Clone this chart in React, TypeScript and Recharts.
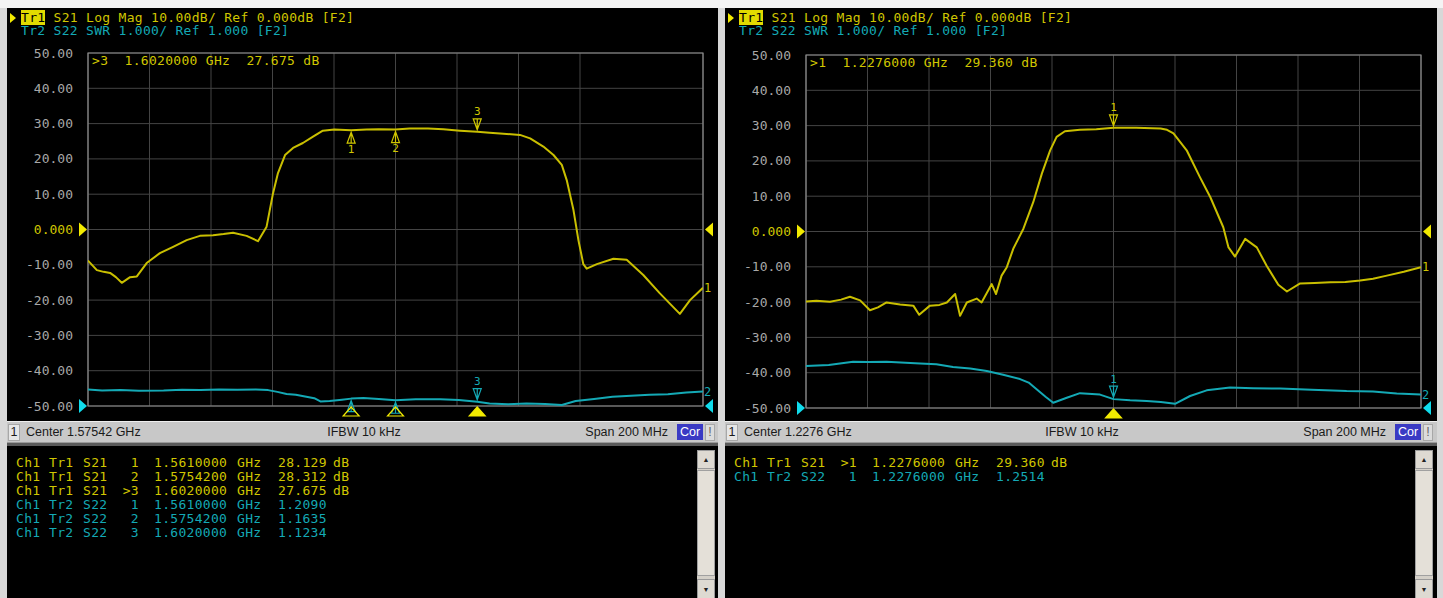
import React from "react";
import { CartesianGrid, ComposedChart, Line, ReferenceArea, ReferenceDot, XAxis, YAxis } from "recharts";

const MONO = '"DejaVu Sans Mono", "Liberation Mono", monospace';
const SANS = '"Liberation Sans", Arial, sans-serif';
const YELLOW = "#c9bf00";
const YELLOW_TXT = "#d0c600";
const YELLOW_REF = "#f2ea00";
const CYAN = "#14a9b5";
const CYAN_REF = "#10dcec";
const GRID = "#444444";

const DB_TICKS = [50, 40, 30, 20, 10, 0, -10, -20, -30, -40, -50];

// left panel: center 1.57542 GHz, span 200 MHz (frequencies in MHz)
const leftStart = 1475.42;
const leftS21Freq = [
  1475.42, 1478.3, 1480.5, 1482.6, 1484.5, 1486.4, 1489.1, 1491.3, 1494.5, 1498.8, 1503.1, 1507.5, 1511.8, 1516.1,
  1519.5, 1522.6, 1527.0, 1530.7, 1533.5, 1535.6, 1537.2, 1539.5, 1542.1, 1545.3, 1548.6, 1551.8, 1555.5, 1561.0,
  1566, 1570, 1575.42, 1580, 1586, 1591, 1596.4, 1602.0, 1606, 1609.4, 1615.9, 1619.2, 1623.5, 1626.8, 1629.5,
  1631.1, 1633.3, 1634.9, 1636.5, 1637.6, 1640.9, 1646.3, 1650.6, 1656.0, 1661.4, 1667.9, 1671.2, 1675.42,
];
const leftS21 = [
  -8.8, -11.5, -12.0, -12.3, -13.5, -15.1, -13.5, -13.3, -9.5, -6.7, -4.9, -3.0, -1.8, -1.6, -1.3, -0.9, -1.8, -3.3,
  0.8, 10.3, 16.0, 21.1, 23.1, 24.5, 26.3, 28.0, 28.3, 28.13, 28.3, 28.4, 28.31, 28.6, 28.6, 28.4, 28.0, 27.68, 27.4,
  27.2, 26.8, 25.8, 23.5, 21.1, 18.3, 14.0, 5.5, -3.0, -9.8, -11.1, -9.8, -8.3, -8.6, -12.9, -18.1, -23.9, -20.0,
  -16.5,
];
const leftS22Freq = [
  1475.42, 1480, 1486, 1492, 1500, 1506, 1512, 1518, 1524, 1530, 1534, 1537, 1540, 1543, 1546, 1549, 1551, 1554,
  1558, 1561, 1565, 1570, 1575.42, 1582, 1590, 1596, 1602, 1606, 1612, 1618, 1624, 1629.5, 1634, 1640, 1646, 1652,
  1658, 1664, 1670, 1675.42,
];
const leftS22 = [
  1.47, 1.44, 1.45, 1.43, 1.44, 1.46, 1.45, 1.47, 1.46, 1.47, 1.45, 1.4, 1.34, 1.32, 1.27, 1.22, 1.13, 1.14, 1.18,
  1.209, 1.23, 1.2, 1.1635, 1.19, 1.19, 1.17, 1.1234, 1.07, 1.05, 1.07, 1.06, 1.03, 1.14, 1.2, 1.26, 1.29, 1.32,
  1.33, 1.38, 1.41,
];
const leftMarkerFreq = [1561, 1575.42, 1602];
const leftMarkerS21 = [28.129, 28.312, 27.675];
const leftMarkerS22 = [1.209, 1.1635, 1.1234];

// right panel: center 1.2276 GHz, span 200 MHz
const rightStart = 1127.6;
const rightS21Freq = [
  1127.6, 1131, 1135.4, 1139, 1141.9, 1145.2, 1148.4, 1151, 1153.8, 1158.2, 1162.5, 1164.4, 1167.9, 1171, 1173.4,
  1176.1, 1177.7, 1179.9, 1183.1, 1184.7, 1188.0, 1189.4, 1191.2, 1192.9, 1195.0, 1198.3, 1201.5, 1204.3, 1207.0,
  1209.1, 1211.8, 1216.7, 1222, 1227.6, 1235, 1242.9, 1245, 1247.1, 1251.4, 1255.7, 1259.1, 1263.3, 1265.0, 1267.1,
  1270.4, 1274.2, 1277.4, 1281.2, 1284.0, 1288.3, 1293, 1298.1, 1303, 1307.8, 1312, 1316.5, 1322, 1327.6,
];
const rightS21 = [
  -19.8, -19.6, -19.9, -19.3, -18.5, -19.5, -22.3, -21.5, -20.1, -20.7, -21.0, -23.6, -21.0, -20.8, -20.1, -17.7,
  -23.9, -20.1, -19.0, -20.1, -14.9, -17.7, -12.5, -10.1, -4.9, 0.8, 8.3, 16.4, 23.0, 26.8, 28.4, 28.8, 29.0, 29.36,
  29.4, 29.2, 28.8, 27.8, 23.0, 15.4, 9.7, 1.2, -4.5, -7.1, -2.1, -4.5, -9.7, -15.1, -17.0, -14.7, -14.6, -14.4,
  -14.3, -13.9, -13.4, -12.5, -11.4, -10.1,
];
const rightS22Freq = [
  1127.6, 1135, 1142.9, 1148, 1153.8, 1160, 1164.7, 1170, 1175.4, 1181, 1186.4, 1191.7, 1197.2, 1200, 1202.6,
  1205.5, 1208.0, 1212.4, 1216.7, 1223.2, 1227.6, 1233, 1238.4, 1243, 1247.6, 1252.5, 1257.9, 1265.5, 1273, 1281.8,
  1292, 1303.4, 1312, 1319.7, 1327.6,
];
const rightS22 = [
  2.19, 2.22, 2.31, 2.3, 2.31, 2.28, 2.26, 2.24, 2.16, 2.12, 2.05, 1.94, 1.82, 1.72, 1.53, 1.32, 1.15, 1.29, 1.42,
  1.38, 1.2514, 1.22, 1.2, 1.17, 1.12, 1.34, 1.5, 1.58, 1.56, 1.55, 1.52, 1.48, 1.47, 1.41, 1.38,
];
const rightMarkerFreq = [1227.6];
const rightMarkerS21 = [29.36];
const rightMarkerS22 = [1.2514];

function DbTick(props: any) {
  const { x, y, payload } = props;
  const v = payload.value;
  return (
    <g>
      <text
        x={x - 15}
        y={y}
        textAnchor="end"
        dominantBaseline="central"
        fill={v === 0 ? YELLOW_TXT : "#a8a8a8"}
        fontSize={13}
        fontFamily={MONO}
      >
        {v === 0 ? "0.000" : v.toFixed(2)}
      </text>
      {v === 0 && <path d={`M${x - 9},${y - 7} L${x - 1},${y} L${x - 9},${y + 7} Z`} fill={YELLOW_REF} />}
      {v === -50 && <path d={`M${x - 9},${y - 7} L${x - 1},${y} L${x - 9},${y + 7} Z`} fill={CYAN_REF} />}
    </g>
  );
}

const downMarker = (color: string, label: string) => (props: any) => {
  const { cx, cy } = props;
  if (cx == null || cy == null) return <g />;
  return (
    <g>
      <path
        d={`M${cx - 4},${cy - 13} L${cx + 4},${cy - 13} L${cx},${cy - 2} Z M${cx},${cy - 13} L${cx},${cy - 2}`}
        fill="none"
        stroke={color}
        strokeWidth={1.2}
      />
      <text x={cx} y={cy - 20} textAnchor="middle" dominantBaseline="central" fill={color} fontSize={11} fontFamily={MONO}>
        {label}
      </text>
    </g>
  );
};

const upMarker = (color: string, label: string) => (props: any) => {
  const { cx, cy } = props;
  if (cx == null || cy == null) return <g />;
  return (
    <g>
      <path
        d={`M${cx - 4},${cy + 13} L${cx + 4},${cy + 13} L${cx},${cy + 2} Z M${cx},${cy + 2} L${cx},${cy + 13}`}
        fill="none"
        stroke={color}
        strokeWidth={1.2}
      />
      {label && (
        <text x={cx} y={cy + 19} textAnchor="middle" dominantBaseline="central" fill={color} fontSize={11} fontFamily={MONO}>
          {label}
        </text>
      )}
    </g>
  );
};

const stimulusMarker = (active: boolean) => (props: any) => {
  const { cx, cy } = props;
  if (cx == null || cy == null) return <g />;
  return (
    <path
      d={`M${cx - 8},${cy + 10} L${cx + 8},${cy + 10} L${cx},${cy + 1} Z`}
      fill={active ? YELLOW_REF : "none"}
      stroke={YELLOW_REF}
      strokeWidth={1.2}
    />
  );
};

const rightRef = (color: string) => (props: any) => {
  const { cx, cy } = props;
  if (cx == null || cy == null) return <g />;
  return <path d={`M${cx + 10},${cy - 7} L${cx + 2},${cy} L${cx + 10},${cy + 7} Z`} fill={color} />;
};

const endLabel = (color: string, label: string) => (props: any) => {
  const { cx, cy } = props;
  if (cx == null || cy == null) return <g />;
  return (
    <text x={cx + 1} y={cy} dominantBaseline="central" fill={color} fontSize={12} fontFamily={MONO}>
      {label}
    </text>
  );
};

type PanelProps = {
  left: number;
  width: number;
  plotTop: number;
  start: number;
  center: string;
  s21Freq: number[];
  s21: number[];
  s22Freq: number[];
  s22: number[];
  mFreq: number[];
  mS21: number[];
  mS22: number[];
  active: number;
};

const ghz = (f: number) => (f / 1000).toFixed(7);

function Panel(p: PanelProps) {
  const W = p.width;
  const H = 413;
  const end = p.start + 200;
  const s21Data = p.s21Freq.map((f, i) => ({ f, v: p.s21[i] }));
  const s22Data = p.s22Freq.map((f, i) => ({ f, v: p.s22[i] }));
  const grid = Array.from({ length: 11 }, (_, i) => p.start + i * 20);
  const mono = { fontFamily: MONO, fontSize: 13, lineHeight: "16px", whiteSpace: "pre" as const, letterSpacing: 0.3 };
  const rows = [
    ...p.mFreq.map((f, i) => ({
      color: YELLOW_TXT,
      tr: "Tr1",
      s: "S21",
      m: i === p.active ? `>${i + 1}` : `${i + 1}`,
      f: ghz(f),
      val: p.mS21[i].toFixed(3),
      unit: "dB",
    })),
    ...p.mFreq.map((f, i) => ({
      color: CYAN,
      tr: "Tr2",
      s: "S22",
      m: `${i + 1}`,
      f: ghz(f),
      val: p.mS22[i].toFixed(4),
      unit: "",
    })),
  ];
  return (
    <>
      <div style={{ position: "absolute", left: p.left, top: 8, width: W, height: H, background: "#000", overflow: "hidden" }}>
        <ComposedChart
          width={W}
          height={H}
          margin={{ top: p.plotTop, right: W - 81 - 615, bottom: H - p.plotTop - 353, left: 0 }}
        >
          <XAxis dataKey="f" type="number" domain={[p.start, end]} allowDataOverflow hide />
          <YAxis
            yAxisId="db"
            type="number"
            domain={[-50, 50]}
            ticks={DB_TICKS}
            interval={0}
            width={81}
            axisLine={false}
            tickLine={false}
            tickSize={0}
            tickMargin={0}
            tick={<DbTick />}
            allowDataOverflow
          />
          <YAxis yAxisId="swr" type="number" domain={[1, 11]} orientation="right" hide allowDataOverflow />
          <CartesianGrid
            yAxisId="db"
            stroke={GRID}
            strokeWidth={1}
            horizontalValues={DB_TICKS}
            verticalValues={grid}
          />
          <ReferenceArea yAxisId="db" x1={p.start} x2={end} y1={-50} y2={50} fill="none" stroke="#8e8e8e" strokeWidth={1.2} />
          <Line
            data={s22Data}
            dataKey="v"
            yAxisId="swr"
            type="linear"
            stroke={CYAN}
            strokeWidth={2}
            strokeLinejoin="round"
            dot={false}
            isAnimationActive={false}
          />
          <Line
            data={s21Data}
            dataKey="v"
            yAxisId="db"
            type="linear"
            stroke={YELLOW}
            strokeWidth={2}
            strokeLinejoin="round"
            dot={false}
            isAnimationActive={false}
          />
          {p.mFreq.map((f, i) => (
            <ReferenceDot
              key={`y${i}`}
              yAxisId="db"
              x={f}
              y={p.mS21[i]}
              ifOverflow="visible"
              shape={i === p.active ? downMarker(YELLOW_TXT, `${i + 1}`) : upMarker(YELLOW_TXT, `${i + 1}`)}
            />
          ))}
          {p.mFreq.map((f, i) => (
            <ReferenceDot
              key={`c${i}`}
              yAxisId="swr"
              x={f}
              y={p.mS22[i]}
              ifOverflow="visible"
              shape={i === p.active ? downMarker(CYAN, `${i + 1}`) : upMarker(CYAN, "")}
            />
          ))}
          {p.mFreq.map((f, i) => (
            <ReferenceDot key={`s${i}`} yAxisId="db" x={f} y={-50} ifOverflow="visible" shape={stimulusMarker(i === p.active)} />
          ))}
          <ReferenceDot yAxisId="db" x={end} y={0} ifOverflow="visible" shape={rightRef(YELLOW_REF)} />
          <ReferenceDot yAxisId="db" x={end} y={-50} ifOverflow="visible" shape={rightRef(CYAN_REF)} />
          <ReferenceDot
            yAxisId="db"
            x={end}
            y={p.s21[p.s21.length - 1]}
            ifOverflow="visible"
            shape={endLabel(YELLOW_TXT, "1")}
          />
          <ReferenceDot
            yAxisId="swr"
            x={end}
            y={p.s22[p.s22.length - 1]}
            ifOverflow="visible"
            shape={endLabel(CYAN, "2")}
          />
        </ComposedChart>
        <div
          style={{
            position: "absolute",
            left: 3,
            top: 5,
            width: 0,
            height: 0,
            borderTop: "5px solid transparent",
            borderBottom: "5px solid transparent",
            borderLeft: `6px solid ${YELLOW_REF}`,
          }}
        />
        <div style={{ ...mono, position: "absolute", left: 14, top: 2, color: YELLOW_TXT }}>
          <span style={{ background: "#e2da00", color: "#000" }}>Tr1</span> S21 Log Mag 10.00dB/ Ref 0.000dB [F2]
        </div>
        <div style={{ ...mono, position: "absolute", left: 14, top: 15, color: CYAN }}>
          Tr2 S22 SWR 1.000/ Ref 1.000 [F2]
        </div>
        <div style={{ ...mono, position: "absolute", left: 85, top: p.plotTop, color: YELLOW_TXT }}>
          {`>${p.active + 1}  ${ghz(p.mFreq[p.active])} GHz  ${p.mS21[p.active].toFixed(3)} dB`}
        </div>
      </div>

      {/* status bar */}
      <div
        style={{
          position: "absolute",
          left: p.left,
          top: 421,
          width: W,
          height: 20,
          background: "#c8c8c8",
          borderTop: "1px solid #eeeeee",
          fontFamily: SANS,
          fontSize: 12.5,
          color: "#1a1a1a",
          lineHeight: "20px",
        }}
      >
        <div
          style={{
            position: "absolute",
            left: 1,
            top: 2,
            width: 10,
            height: 15,
            background: "#e6e6e6",
            border: "1px solid #a8a8a8",
            lineHeight: "15px",
            textAlign: "center",
          }}
        >
          1
        </div>
        <div style={{ position: "absolute", left: 19, top: 0 }}>{p.center}</div>
        <div style={{ position: "absolute", left: 357, top: 0, transform: "translateX(-50%)", whiteSpace: "nowrap" }}>
          IFBW 10 kHz
        </div>
        <div style={{ position: "absolute", right: W - 661, top: 0, whiteSpace: "nowrap" }}>Span 200 MHz</div>
        <div
          style={{
            position: "absolute",
            left: 670,
            top: 2,
            width: 26,
            height: 16,
            background: "#3a3ac4",
            color: "#fff",
            lineHeight: "16px",
            textAlign: "center",
          }}
        >
          Cor
        </div>
        <div
          style={{
            position: "absolute",
            left: 698,
            top: 2,
            width: 8,
            height: 15,
            background: "#dcdcdc",
            border: "1px solid #a8a8a8",
            lineHeight: "15px",
            textAlign: "center",
            color: "#666",
          }}
        >
          !
        </div>
      </div>
      <div style={{ position: "absolute", left: p.left, top: 442, width: W, height: 1, background: "#9a9a9a" }} />
      <div style={{ position: "absolute", left: p.left, top: 443, width: W, height: 3, background: "#5a5a5a" }} />

      {/* marker table */}
      <div style={{ position: "absolute", left: p.left, top: 446, width: W, height: 152, background: "#000", overflow: "hidden" }}>
        {rows.map((r, i) => (
          <div key={i} style={{ ...mono, position: "absolute", top: 9 + i * 14, left: 0, width: 400, height: 16, color: r.color }}>
            <span style={{ position: "absolute", left: 9 }}>Ch1</span>
            <span style={{ position: "absolute", left: 42 }}>{r.tr}</span>
            <span style={{ position: "absolute", left: 76 }}>{r.s}</span>
            <span style={{ position: "absolute", right: 400 - 132 }}>{r.m}</span>
            <span style={{ position: "absolute", left: 147 }}>{r.f}</span>
            <span style={{ position: "absolute", left: 230 }}>GHz</span>
            <span style={{ position: "absolute", left: 271 }}>{r.val}</span>
            <span style={{ position: "absolute", left: 326 }}>{r.unit}</span>
          </div>
        ))}
        <div style={{ position: "absolute", left: 690, top: 4, width: 18, height: 148, background: "#d4d0c8" }}>
          <div
            style={{
              position: "absolute",
              left: 0,
              top: 0,
              width: 16,
              height: 17,
              background: "#dedad2",
              border: "1px solid #9a9a9a",
              fontSize: 7,
              lineHeight: "17px",
              textAlign: "center",
              color: "#222",
            }}
          >
            ▲
          </div>
          <div
            style={{
              position: "absolute",
              left: 0,
              top: 20,
              width: 16,
              height: 104,
              background: "#e4e0d8",
              border: "1px solid #a0a0a0",
            }}
          />
          <div
            style={{
              position: "absolute",
              left: 0,
              top: 129,
              width: 16,
              height: 19,
              background: "#dedad2",
              border: "1px solid #9a9a9a",
              fontSize: 7,
              lineHeight: "19px",
              textAlign: "center",
              color: "#222",
            }}
          >
            ▼
          </div>
        </div>
      </div>
    </>
  );
}

export default function App() {
  return (
    <div
      style={{
        position: "absolute",
        left: 0,
        top: 0,
        width: 1443,
        height: 598,
        background: "#d8d8d8",
        overflow: "hidden",
        fontFamily: SANS,
      }}
    >
      <div style={{ position: "absolute", left: 0, top: 0, width: 1443, height: 8, background: "#f4f4f4" }} />
      <Panel
        left={7}
        width={711}
        plotTop={45}
        start={leftStart}
        center="Center 1.57542 GHz"
        s21Freq={leftS21Freq}
        s21={leftS21}
        s22Freq={leftS22Freq}
        s22={leftS22}
        mFreq={leftMarkerFreq}
        mS21={leftMarkerS21}
        mS22={leftMarkerS22}
        active={2}
      />
      <Panel
        left={725}
        width={712}
        plotTop={47}
        start={rightStart}
        center="Center 1.2276 GHz"
        s21Freq={rightS21Freq}
        s21={rightS21}
        s22Freq={rightS22Freq}
        s22={rightS22}
        mFreq={rightMarkerFreq}
        mS21={rightMarkerS21}
        mS22={rightMarkerS22}
        active={0}
      />
    </div>
  );
}
